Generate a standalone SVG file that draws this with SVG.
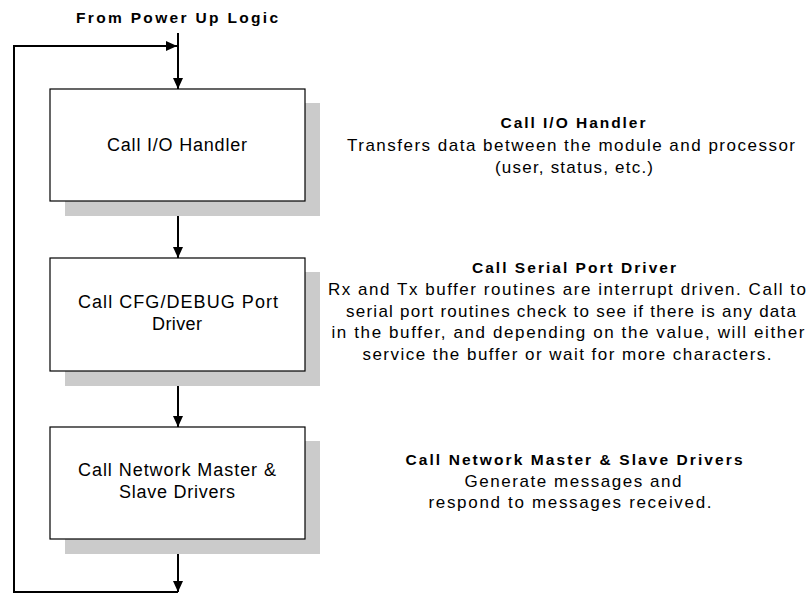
<svg xmlns="http://www.w3.org/2000/svg" width="807" height="595" viewBox="0 0 807 595">
<style>
text{font-family:"Liberation Sans",Arial,sans-serif;fill:#000}
.t{font-size:18px;text-anchor:middle}
.d{font-size:17px;text-anchor:middle}
.h{font-size:15.5px;font-weight:bold;text-anchor:middle}
.box{fill:#fff;stroke:#000;stroke-width:1.2}
.sh{fill:#cbcbcb}
.c{fill:none;stroke:#000;stroke-width:2}
</style>
<defs>
<marker id="ah" markerUnits="userSpaceOnUse" markerWidth="12" markerHeight="12" refX="11" refY="5.5" orient="auto">
<path d="M0,0.5 L11,5.5 L0,10.5 z" fill="#000"/>
</marker>
</defs>
<rect width="807" height="595" fill="#fff"/>
<text class="h" x="177" y="23" textLength="202" lengthAdjust="spacing">From Power Up Logic</text>
<g id="connectors">
<path class="c" d="M178,33 V89" marker-end="url(#ah)"/>
<path class="c" d="M178,201 V258" marker-end="url(#ah)"/>
<path class="c" d="M178,371 V427" marker-end="url(#ah)"/>
<path class="c" d="M178,539 V592" marker-end="url(#ah)"/>
<path class="c" d="M178,592 H14 V46 H177" marker-end="url(#ah)"/>
</g>
<g id="node1">
<rect class="sh" x="65" y="103" width="255" height="113"/>
<rect class="box" x="50" y="89" width="255" height="112"/>
<text class="t" x="177" y="151" textLength="140" lengthAdjust="spacing">Call I/O Handler</text>
</g>
<g id="node2">
<rect class="sh" x="65" y="272" width="255" height="114"/>
<rect class="box" x="50" y="258" width="255" height="113"/>
<text class="t" x="178" y="308" textLength="200" lengthAdjust="spacing">Call CFG/DEBUG Port</text>
<text class="t" x="177" y="330" textLength="50" lengthAdjust="spacing">Driver</text>
</g>
<g id="node3">
<rect class="sh" x="65" y="441" width="255" height="113"/>
<rect class="box" x="50" y="427" width="255" height="112"/>
<text class="t" x="177" y="476" textLength="198" lengthAdjust="spacing">Call Network Master &amp;</text>
<text class="t" x="177" y="498" textLength="116" lengthAdjust="spacing">Slave Drivers</text>
</g>
<g id="desc1">
<text class="h" x="573" y="128" textLength="145" lengthAdjust="spacing">Call I/O Handler</text>
<text class="d" x="571" y="151" textLength="448" lengthAdjust="spacing">Transfers data between the module and processor</text>
<text class="d" x="574" y="173" textLength="158" lengthAdjust="spacing">(user, status, etc.)</text>
</g>
<g id="desc2">
<text class="h" x="574" y="273" textLength="204" lengthAdjust="spacing">Call Serial Port Driver</text>
<text class="d" x="567" y="295" textLength="478" lengthAdjust="spacing">Rx and Tx buffer routines are interrupt driven. Call to</text>
<text class="d" x="571" y="317" textLength="450" lengthAdjust="spacing">serial port routines check to see if there is any data</text>
<text class="d" x="568" y="338" textLength="473" lengthAdjust="spacing">in the buffer, and depending on the value, will either</text>
<text class="d" x="567" y="360" textLength="409" lengthAdjust="spacing">service the buffer or wait for more characters.</text>
</g>
<g id="desc3">
<text class="h" x="574" y="465" textLength="337" lengthAdjust="spacing">Call Network Master &amp; Slave Drivers</text>
<text class="d" x="573" y="487" textLength="217" lengthAdjust="spacing">Generate messages and</text>
<text class="d" x="570" y="508" textLength="283" lengthAdjust="spacing">respond to messages received.</text>
</g>
</svg>
